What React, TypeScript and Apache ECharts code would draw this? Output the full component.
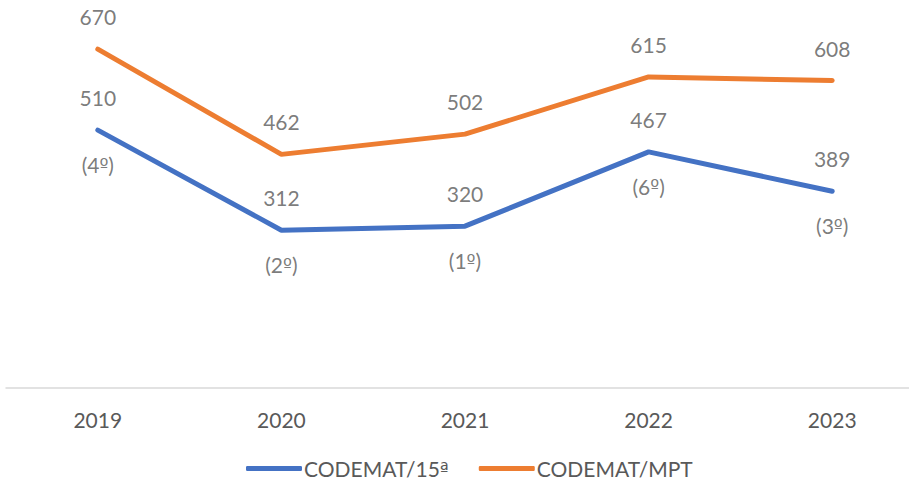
import React, { useEffect, useRef } from "react";
import * as echarts from "echarts";

const categories = ["2019", "2020", "2021", "2022", "2023"];
const seriesNames = ["CODEMAT/15ª", "CODEMAT/MPT"];
const codemat15 = [510, 312, 320, 467, 389];
const codematMPT = [670, 462, 502, 615, 608];
const ranks15 = ["(4º)", "(2º)", "(1º)", "(6º)", "(3º)"];

const FONT = "Lato";
const TXT = "#595959";
const FS = 21;

const ordRich = {
  o: { fontFamily: "DejaVu Sans", fontSize: 19, color: TXT },
};

function withOrd(s: string) {
  return s.replace(/([ºª])/g, "{o|$1}");
}

function labelSeries(name: string, data: number[], position: string, distance: number, texts?: string[]) {
  return {
    name,
    type: "scatter",
    data,
    symbolSize: 0,
    silent: true,
    label: {
      show: true,
      position,
      distance,
      fontFamily: FONT,
      fontSize: FS,
      color: TXT,
      rich: ordRich,
      formatter: texts ? (p: any) => withOrd(texts[p.dataIndex]) : (p: any) => String(p.value),
    },
    z: 5,
  };
}

export default function App() {
  const ref = useRef<HTMLDivElement>(null);
  useEffect(() => {
    if (!ref.current) return;
    const chart = echarts.init(ref.current, null, { renderer: "svg" });
    chart.setOption({
      animation: false,
      textStyle: { fontFamily: FONT, color: TXT },
      grid: {
        left: 6,
        width: 918,
        top: 34,
        bottom: 101,
        containLabel: false,
        outerBoundsMode: "none",
      },
      legend: {
        data: seriesNames,
        bottom: 5,
        left: 241,
        itemWidth: 56,
        itemHeight: 5,
        itemGap: 30,
        icon: "roundRect",
        formatter: (n: string) => withOrd(n),
        textStyle: { fontFamily: FONT, fontSize: FS, color: TXT, padding: [0, 0, 0, -3], rich: ordRich },
      },
      xAxis: {
        type: "category",
        data: categories,
        boundaryGap: true,
        axisLine: { show: true, lineStyle: { color: "#D9D9D9", width: 1.5 } },
        axisTick: { show: false },
        axisLabel: { fontFamily: FONT, fontSize: FS, color: TXT, margin: 21 },
      },
      yAxis: {
        type: "value",
        min: 0,
        max: 700,
        show: false,
        splitLine: { show: false },
      },
      series: [
        {
          name: seriesNames[0],
          type: "line",
          data: codemat15,
          symbol: "none",
          lineStyle: { color: "#4472C4", width: 5, cap: "round" },
          itemStyle: { color: "#4472C4" },
          z: 3,
        },
        {
          name: seriesNames[1],
          type: "line",
          data: codematMPT,
          symbol: "none",
          lineStyle: { color: "#ED7D31", width: 5, cap: "round" },
          itemStyle: { color: "#ED7D31" },
          z: 3,
        },
        labelSeries("v15", codemat15, "top", 22),
        labelSeries("vMPT", codematMPT, "top", 22),
        labelSeries("ranks", codemat15, "bottom", 24, ranks15),
      ],
    });
    return () => chart.dispose();
  }, []);
  return <div ref={ref} style={{ width: 909, height: 489, position: "absolute", left: 0, top: 0 }} />;
}
